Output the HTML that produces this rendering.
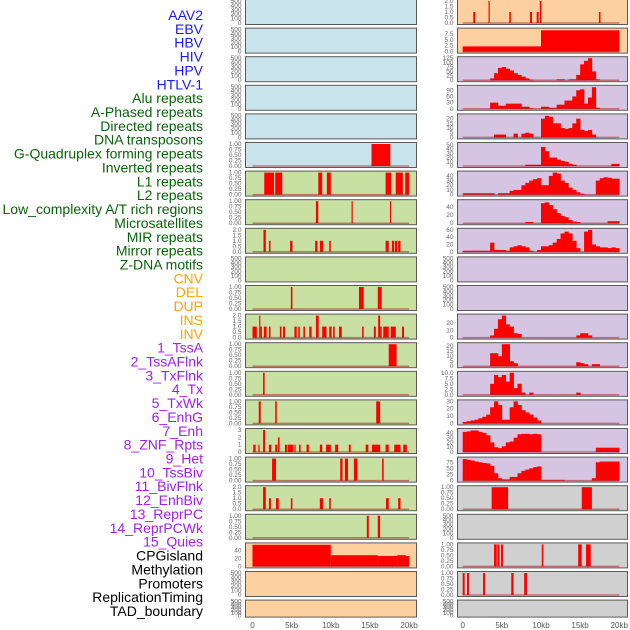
<!DOCTYPE html>
<html><head><meta charset="utf-8"><style>
html,body{margin:0;padding:0;background:#fff;}
svg{display:block;font-family:"Liberation Sans",sans-serif;}
</style></head><body>
<svg id="chart" width="630" height="630" viewBox="0 0 630 630"></svg>
<script>
// ---------- data ----------
const trackLabels = ["AAV2","EBV","HBV","HIV","HPV","HTLV-1","Alu repeats","A-Phased repeats","Directed repeats","DNA transposons","G-Quadruplex forming repeats","Inverted repeats","L1 repeats","L2 repeats","Low_complexity A/T rich regions","Microsatellites","MIR repeats","Mirror repeats","Z-DNA motifs","CNV","DEL","DUP","INS","INV","1_TssA","2_TssAFlnk","3_TxFlnk","4_Tx","5_TxWk","6_EnhG","7_Enh","8_ZNF_Rpts","9_Het","10_TssBiv","11_BivFlnk","12_EnhBiv","13_ReprPC","14_ReprPCWk","15_Quies","CPGisland","Methylation","Promoters","ReplicationTiming","TAD_boundary"];
const labelGroups = [6,13,5,15,5];
const xTickValues = [0,5,10,15,20];
const xTickLabels = ["0","5kb","10kb","15kb","20kb"];

const ticksEmpty = ["0","100","200","300","400","500"];
const ticksBinary = ["0.00","0.25","0.50","0.75","1.00"];
const ticksTwo = ["0.0","0.5","1.0","1.5","2.0"];

// left column bars [startKb, endKb, value]
const L5_bars = [[15.2,17.6,1]];
const L6_bars = [[1.5,2.75,1],[2.9,3.8,1],[8.4,8.9,1],[9.5,10.0,1],[17.0,17.7,1],[18.3,19.2,1],[19.5,20.0,1]];
const L7_bars = [[8.1,8.4,1],[12.65,12.8,1],[17.55,17.7,1]];
const L8_bars = [[1.4,1.7,2],[2.1,2.3,1],[4.8,5.1,1],[8.0,8.3,1],[8.6,9.0,1],[9.8,10.0,1],[17.0,17.4,1],[17.8,18.1,1],[18.2,18.5,1],[18.6,18.9,1]];
const L10_bars = [[4.9,5.1,1],[13.6,14.2,1],[16.0,16.5,1]];
const L11_bars = [[0,0.55,1],[0.85,1.0,2],[1.0,1.2,1],[1.45,1.8,1],[2.1,2.3,1],[3.5,3.7,1],[3.9,4.15,1],[5.35,5.65,1],[5.85,6.05,1],[6.5,6.7,1],[7.25,7.55,1],[8.1,8.45,2],[8.9,9.45,1],[9.8,10.1,1],[10.3,10.5,1],[11.05,11.4,1],[14.0,14.2,1],[15.5,15.75,1],[16.05,16.3,2],[16.3,16.5,1],[16.7,17.4,1],[17.65,18.3,1],[19.1,19.35,1]];
const L12_bars = [[17.4,18.4,1]];
const L13_bars = [[1.35,1.55,1]];
const L14_bars = [[0.8,1.05,1],[2.9,3.1,1],[15.8,16.3,1]];
const L15_bars = [[0.1,0.4,1],[0.75,0.9,1],[1.35,1.6,3],[2.1,2.4,1],[2.9,3.15,1],[3.25,3.45,2],[4.15,4.4,1],[4.5,5.2,1],[5.35,5.5,1],[5.95,6.15,1],[6.9,7.2,1],[8.6,8.9,1],[9.4,10.0,1],[10.55,10.95,1],[12.3,12.55,1],[14.45,14.8,1],[15.25,16.3,1],[17.0,17.4,1],[18.1,18.9,1],[19.25,19.7,1]];
const L16_bars = [[2.5,3.0,1],[11.2,11.5,1],[11.8,12.2,1],[12.95,13.4,1],[16.55,16.75,1]];
const L17_bars = [[1.35,1.7,2],[2.1,2.35,1],[3.0,3.35,1],[4.9,5.1,1],[8.6,9.0,1],[9.8,10.0,1],[17.05,17.4,1],[18.6,18.9,1]];
const L18_bars = [[14.6,14.85,1],[16.0,16.3,1]];
const L19_bars = [[0,10,54],[10,16,28],[16,18.5,26],[18.5,19.6,28],[19.6,20,26]];

// right column
const R0_bars = [[1.35,1.6,1],[3.3,3.45,2],[5.95,6.15,1],[8.6,8.85,1],[9.45,9.7,1],[9.85,10.05,2],[17.4,17.6,1]];
const R1_bars = [[0,10,2.2],[10,20,9]];
// histograms, 0.5kb bins from 0 to 20kb
const R2_hist = [0,0,0,0,0,0,0,10,40,70,75,65,55,40,30,20,10,3,0,0,0,0,0,0,5,5,0,5,5,30,90,110,125,50,5,0,0,0,0,0];
const R3_hist = [0,0,0,0,0,0,0,30,30,15,15,25,25,25,25,10,10,3,0,0,10,10,5,5,20,20,40,40,60,90,95,25,55,105,5,0,0,0,0,0];
const R4_hist = [0,0,0,0,0,0,0,0,3,3,3,0,0,4,0,4,5,4,0,0,20,23,22,15,15,10,9,10,15,20,8,7,8,3,0,0,0,0,0,0];
const R5_hist = [0,0,0,0,0,0,0,0,0,0,0,0,0,0,0,0,3,3,3,3,45,35,20,20,15,12,10,5,3,0,0,0,0,0,0,0,0,0,5,5];
const R6_hist = [3,3,3,3,3,3,3,3,0,3,3,3,8,10,10,20,25,30,33,35,20,20,40,47,45,30,25,15,10,5,2,0,0,0,30,35,37,36,34,34];
const R7_hist = [0,0,0,0,0,0,0,0,0,0,0,0,0,0,0,0,3,3,0,0,50,52,45,35,25,18,15,8,4,3,0,0,0,0,0,0,0,5,5,5];
const R8_hist = [3,3,3,3,3,3,3,25,5,5,5,3,12,15,18,15,12,3,0,5,15,15,18,25,35,50,55,50,30,10,0,55,60,20,15,12,12,10,12,10];
const R11_hist = [0,0,0,0,0,0,0,3,12,25,30,18,15,6,5,0,0,0,0,0,0,0,0,0,0,0,0,0,0,3,6,6,3,0,0,0,0,0,0,0];
const R12_hist = [0,0,0,0,0,0,0,13,13,10,22,22,5,3,0,0,0,0,0,0,0,0,0,0,0,0,0,0,0,4,3,2,0,2,2,0,0,0,0,0];
const R13_hist = [0,0,0,0,0,0,0,5,9,8,9,6,10,3,5,1,0,1,0,0,0,0,0,0,0,0,0,0,0,1,0,0,0,0,0,0,0,0,0,0];
const R14_hist = [2,3,4,5,7,9,12,22,30,25,5,5,22,30,25,18,15,12,8,4,0,0,0,0,0,0,0,0,0,0,0,0,0,0,0,0,0,0,0,0];
const R15_hist = [42,43,45,45,42,40,35,20,10,8,12,20,22,30,37,38,38,37,38,37,0,0,0,0,0,0,0,0,0,0,0,0,0,0,9,9,9,9,9,9];
const R16_hist = [88,85,82,78,75,72,70,60,30,10,5,5,15,15,30,40,45,50,55,58,3,3,3,3,3,3,0,0,0,0,0,0,0,10,75,78,78,78,78,78];
const R17_bars = [[3.7,5.8,1],[15.2,16.5,1]];
const R19_bars = [[4.0,4.35,1],[4.45,4.7,1],[4.9,5.15,1],[10.1,10.3,1],[14.75,15.2,1],[15.75,16.35,1]];
const R20_bars = [[0,0.25,1],[0.55,0.8,1],[2.6,2.85,1],[6.2,6.5,1],[7.85,8.2,1]];

// ---------- panel config ----------
const BG = {blue:"#c8e3eb",green:"#c8e0a2",orange:"#fed09f",purple:"#d5c5e2",gray:"#d0d0d0"};
const panels = [
 {c:0,r:0,bg:"blue",ticks:ticksEmpty,max:500},
 {c:0,r:1,bg:"blue",ticks:ticksEmpty,max:500},
 {c:0,r:2,bg:"blue",ticks:ticksEmpty,max:500},
 {c:0,r:3,bg:"blue",ticks:ticksEmpty,max:500},
 {c:0,r:4,bg:"blue",ticks:ticksEmpty,max:500},
 {c:0,r:5,bg:"blue",ticks:ticksBinary,max:1,bars:L5_bars},
 {c:0,r:6,bg:"green",ticks:ticksBinary,max:1,bars:L6_bars},
 {c:0,r:7,bg:"green",ticks:ticksBinary,max:1,bars:L7_bars},
 {c:0,r:8,bg:"green",ticks:ticksTwo,max:2,bars:L8_bars},
 {c:0,r:9,bg:"green",ticks:ticksEmpty,max:500},
 {c:0,r:10,bg:"green",ticks:ticksBinary,max:1,bars:L10_bars},
 {c:0,r:11,bg:"green",ticks:ticksTwo,max:2,bars:L11_bars},
 {c:0,r:12,bg:"green",ticks:ticksBinary,max:1,bars:L12_bars},
 {c:0,r:13,bg:"green",ticks:ticksBinary,max:1,bars:L13_bars},
 {c:0,r:14,bg:"green",ticks:ticksBinary,max:1,bars:L14_bars},
 {c:0,r:15,bg:"green",ticks:["0","1","2","3"],max:3,bars:L15_bars},
 {c:0,r:16,bg:"green",ticks:ticksBinary,max:1,bars:L16_bars},
 {c:0,r:17,bg:"green",ticks:ticksTwo,max:2,bars:L17_bars},
 {c:0,r:18,bg:"green",ticks:ticksBinary,max:1,bars:L18_bars},
 {c:0,r:19,bg:"orange",ticks:["0","20","40"],max:55,bars:L19_bars},
 {c:0,r:20,bg:"orange",ticks:ticksEmpty,max:500},
 {c:0,r:21,bg:"orange",ticks:ticksEmpty,max:500},
 {c:1,r:0,bg:"orange",ticks:ticksTwo,max:2,bars:R0_bars},
 {c:1,r:1,bg:"orange",ticks:["0.0","2.5","5.0","7.5"],max:9.3,bars:R1_bars},
 {c:1,r:2,bg:"purple",ticks:["0","25","50","75","100","125"],max:125,hist:R2_hist},
 {c:1,r:3,bg:"purple",ticks:["0","30","60","90"],max:107,hist:R3_hist},
 {c:1,r:4,bg:"purple",ticks:["0","5","10","15","20"],max:23.5,hist:R4_hist},
 {c:1,r:5,bg:"purple",ticks:["0","10","20","30","40","50"],max:52,hist:R5_hist},
 {c:1,r:6,bg:"purple",ticks:["0","10","20","30","40"],max:47,hist:R6_hist},
 {c:1,r:7,bg:"purple",ticks:["0","20","40"],max:55,hist:R7_hist},
 {c:1,r:8,bg:"purple",ticks:["0","20","40","60"],max:60,hist:R8_hist},
 {c:1,r:9,bg:"purple",ticks:ticksEmpty,max:500},
 {c:1,r:10,bg:"purple",ticks:ticksEmpty,max:500},
 {c:1,r:11,bg:"purple",ticks:["0","10","20"],max:30,hist:R11_hist},
 {c:1,r:12,bg:"purple",ticks:["0","5","10","15","20"],max:22,hist:R12_hist},
 {c:1,r:13,bg:"purple",ticks:["0.0","2.5","5.0","7.5","10.0"],max:10,hist:R13_hist},
 {c:1,r:14,bg:"purple",ticks:["0","10","20","30"],max:30,hist:R14_hist},
 {c:1,r:15,bg:"purple",ticks:["0","10","20","30","40"],max:46,hist:R15_hist},
 {c:1,r:16,bg:"purple",ticks:["0","25","50","75"],max:90,hist:R16_hist},
 {c:1,r:17,bg:"gray",ticks:ticksBinary,max:1,bars:R17_bars},
 {c:1,r:18,bg:"gray",ticks:ticksEmpty,max:500},
 {c:1,r:19,bg:"gray",ticks:ticksBinary,max:1,bars:R19_bars},
 {c:1,r:20,bg:"gray",ticks:ticksBinary,max:1,bars:R20_bars},
 {c:1,r:21,bg:"gray",ticks:ticksEmpty,max:500}
];

// ---------- layout ----------
const svg = document.getElementById('chart');
const NS = "http://www.w3.org/2000/svg";
const colLeft = [245.5, 457.5], colW = [171, 170], colX0 = [252.5, 462.7], KB = 7.83;
function rowTop(r){ return -0.5 + 28.6*r; }
function rowH(r){ return r === 21 ? 17 : 25; }
function xs(c, kb){ return colX0[c] + kb*KB; }
function mk(tag, attrs, parent){ const e=document.createElementNS(NS,tag); for(const k in attrs) e.setAttribute(k,attrs[k]); (parent||svg).appendChild(e); return e; }

// labels
const groupColors = ["#1a1aff","#0a640a","#ffa500","#a020f0","#000000"];
let gi=0, gc=0;
trackLabels.forEach((t,i)=>{
  const el = mk('text',{x:203,y:(15+13.86*i+5).toFixed(1),'text-anchor':'end','font-size':'14',fill:groupColors[gi]});
  el.textContent = t;
  
  
  gc++; if(gc>=labelGroups[gi]){ gi++; gc=0; }
});

panels.forEach(p=>{
  const top=rowTop(p.r), h=rowH(p.r), c=p.c;
  const g = mk('g',{});
  
  
  mk('rect',{x:colLeft[c],y:top,width:colW[c],height:h,fill:BG[p.bg]},g);
  const base = top + h - 1.5, ytop = top + 1.5;
  const ys = v => base - (v/p.max)*(base-ytop);
  // ticks
  const n = p.ticks.length;
  p.ticks.forEach((t)=>{
    const v = parseFloat(t);
    const y = ys(v);
    const tl = mk('text',{x:colLeft[c]-4,y:(y+2).toFixed(1),'text-anchor':'end','font-size':'6.5',fill:'#666'},g);
    tl.textContent = t;
    
    
  });
  const hasData = p.bars || p.hist;
  if (p.bars) p.bars.forEach(b=>{
    const x1=xs(c,b[0]), x2=xs(c,b[1]), y=ys(b[2]);
    const r = mk('rect',{x:x1.toFixed(2),y:y.toFixed(2),width:Math.max(1.2,x2-x1).toFixed(2),height:(base-y).toFixed(2),fill:'#ff0000'},g);
    
    
  });
  if (p.hist) p.hist.forEach((v,i)=>{
    if (v<=0) return;
    const x1=xs(c,i*0.5), x2=xs(c,(i+1)*0.5), y=ys(v);
    const r = mk('rect',{x:x1.toFixed(2),y:y.toFixed(2),width:(x2-x1+0.3).toFixed(2),height:(base-y).toFixed(2),fill:'#ff0000'},g);
    
    
  });
  if (hasData) {
    const bl = mk('line',{x1:xs(c,0),x2:xs(c,20),y1:base,y2:base,stroke:'rgba(160,0,0,0.45)','stroke-width':1.5},g);
    
    
  }
  mk('rect',{x:colLeft[c],y:top,width:colW[c],height:h,fill:'none',stroke:'#5a5a5a','stroke-width':1},g);
});

// x axis labels
[0,1].forEach(c=>{
  xTickValues.forEach((v,i)=>{
    const t = mk('text',{x:xs(c,v).toFixed(1),y:628,'text-anchor':'middle','font-size':'8',fill:'#555'});
    t.textContent = xTickLabels[i];
    
    
  });
});
</script>
</body></html>
